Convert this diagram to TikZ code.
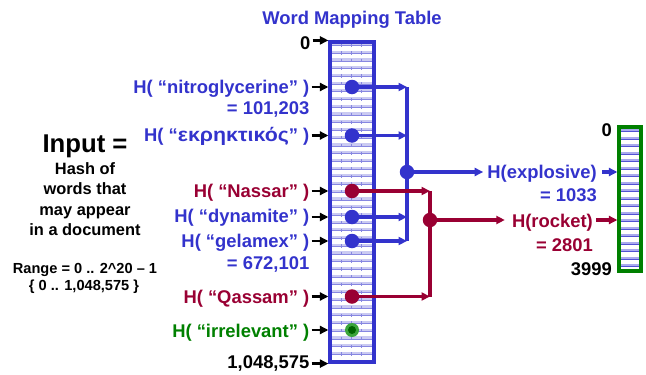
\documentclass[tikz,border=0pt]{standalone}
\usepackage{fontspec}
\setmainfont{Liberation Sans}
\usetikzlibrary{arrows.meta}
\definecolor{mblue}{RGB}{51,51,204}
\definecolor{mred}{RGB}{153,0,51}
\definecolor{mgreen}{RGB}{0,128,0}
\definecolor{lgreen}{RGB}{60,165,60}
\definecolor{dgreen}{RGB}{0,100,0}
\definecolor{band}{RGB}{202,202,242}
\definecolor{bandline}{RGB}{135,135,225}
\definecolor{sband}{RGB}{170,170,238}
\begin{document}
\begin{tikzpicture}[x=1pt,y=-1pt,
  lab/.style={inner sep=0pt, anchor=base east, font=\fontsize{18.4}{20}\selectfont\bfseries},
  ctext/.style={inner sep=0pt, anchor=base, font=\fontsize{#1}{#1}\selectfont\bfseries},
  tip/.style={-{Triangle[length=8.5pt,width=8pt]}},
  karrow/.style={tip, black, line width=2.5pt, shorten <=2pt},
  barrow/.style={tip, mblue, line width=3.3pt},
  rarrow/.style={tip, mred, line width=3.3pt},
  bline/.style={mblue, line width=3.3pt},
  rline/.style={mred, line width=3.3pt},
  bdot/.style={circle, fill=mblue, minimum size=14.5pt, inner sep=0pt},
  rdot/.style={circle, fill=mred, minimum size=14.5pt, inner sep=0pt}]
\useasboundingbox (0,0) rectangle (646,375);

% title
\node[ctext=18.4, text=mblue] (title) at (352,24.5) {Word Mapping Table};

% main table stripes
\foreach \i in {0,...,41}{
  \fill[band] (331,{43+\i*7.72}) rectangle (373,{45.5+\i*7.72});
  \draw[bandline, line width=0.7pt] (331,{45.5+\i*7.72}) -- (373,{45.5+\i*7.72});
  \foreach \x in {341,351,361}
    \draw[bandline, line width=0.5pt] (\x,{43.5+\i*7.72}) -- (\x,{46.8+\i*7.72});
}
\node[draw=mblue, line width=3.2pt, minimum width=44pt, minimum height=320pt, inner sep=0pt] (T) at (352,202) {};

% small table stripes
\foreach \i in {0,...,18}{
  \fill[sband] (620,{129+\i*7.5}) rectangle (640,{131.5+\i*7.5});
  \draw[mblue!85, line width=0.9pt] (620,{131.5+\i*7.5}) -- (640,{131.5+\i*7.5});
}
\node[draw=mgreen, line width=3.2pt, minimum width=22pt, minimum height=144pt, inner sep=0pt] (S) at (630,199) {};

% left block
\node[ctext=25.7] (inp) at (85,152) {Input =};
\node[ctext=16.4] (h1) at (85,174) {Hash of};
\node[ctext=16.4] (h2) at (85,194.5) {words that};
\node[ctext=16.4] (h3) at (85,215) {may appear};
\node[ctext=16.4] (h4) at (85,235) {in a document};
\node[ctext=14.6] (r1) at (85,273) {Range = 0 .. 2\^{}20 – 1};
\node[ctext=14.6] (r2) at (84,290.5) {\{ 0 .. 1,048,575 \}};

% labels
\node[lab] (l0) at (310.5,49.5) {0};
\node[lab, text=mblue] (l1) at (309.5,93.5) {H( “nitroglycerine” )};
\node[lab, text=mblue] (l1b) at (309.5,114.5) {= 101,203};
\node[lab, text=mblue] (l2) at (309.5,141.5) {H( “\scalebox{1.16}[1.05]{εκρηκτικός}” )};
\node[lab, text=mred] (l3) at (309.5,197.5) {H( “Nassar” )};
\node[lab, text=mblue] (l4) at (309.5,222.5) {H( “dynamite” )};
\node[lab, text=mblue] (l5) at (309.5,247.5) {H( “gelamex” )};
\node[lab, text=mblue] (l5b) at (309.5,269.5) {= 672,101};
\node[lab, text=mred] (l6) at (309.5,303) {H( “Qassam” )};
\node[lab, text=mgreen] (l7) at (309.5,337.5) {H( “irrelevant” )};
\node[lab] (l8) at (309.5,368.5) {1,048,575};

\node[lab, text=mblue] (lex) at (597,178.5) {H(explosive)};
\node[lab, text=mblue] (lexb) at (597,201.5) {= 1033};
\node[lab, text=mred] (lrk) at (593,227) {H(rocket)};
\node[lab, text=mred] (lrkb) at (593,251) {= 2801};
\node[lab] (s0) at (612,136.5) {0};
\node[lab] (s1) at (612,275.5) {3999};

% dots
\node[bdot] (d1) at (352,87) {};
\node[bdot] (d2) at (352,135.5) {};
\node[rdot] (d3) at (352,191) {};
\node[bdot] (d4) at (352,217) {};
\node[bdot] (d5) at (352,241) {};
\node[rdot] (d6) at (352,296.5) {};
\node[circle, fill=lgreen, minimum size=14pt, inner sep=0pt] (d7) at (352,330) {};
\node[circle, fill=dgreen, minimum size=8pt, inner sep=0pt] (d7i) at (d7) {};
\node[bdot] (jb) at (407,172) {};
\node[rdot] (jr) at (430,220) {};

% black arrows into table
\draw[karrow] (l0.east |- T.north) -- (T.north west);
\draw[karrow] (l1.east |- d1) -- (T.west |- d1);
\draw[karrow] (l2.east |- d2) -- (T.west |- d2);
\draw[karrow] (l3.east |- d3) -- (T.west |- d3);
\draw[karrow] (l4.east |- d4) -- (T.west |- d4);
\draw[karrow] (l5.east |- d5) -- (T.west |- d5);
\draw[karrow] (l6.east |- d6) -- (T.west |- d6);
\draw[karrow] (l7.east |- d7) -- (T.west |- d7);
\draw[karrow] (l8.east |- T.south) -- (T.south west);

% blue bus
\draw[bline] (d1 -| jb) -- (d5 -| jb);
\draw[barrow] (d1) -- (d1 -| jb);
\draw[barrow] (d2) -- (d2 -| jb);
\draw[barrow] (d4) -- (d4 -| jb);
\draw[barrow] (d5) -- (d5 -| jb);
\draw[barrow, shorten >=4pt] (jb) -- (lex.west |- jb);
\draw[barrow, shorten <=5pt] (lex.east |- jb) -- (S.west |- jb);

% red bus
\draw[rline] (d3 -| jr) -- (d6 -| jr);
\draw[rarrow] (d3) -- (d3 -| jr);
\draw[rarrow] (d6) -- (d6 -| jr);
\draw[rarrow, shorten >=7pt] (jr) -- (lrk.west |- jr);
\draw[rarrow, shorten <=3pt] (lrk.east |- jr) -- (S.west |- jr);
\end{tikzpicture}
\end{document}
